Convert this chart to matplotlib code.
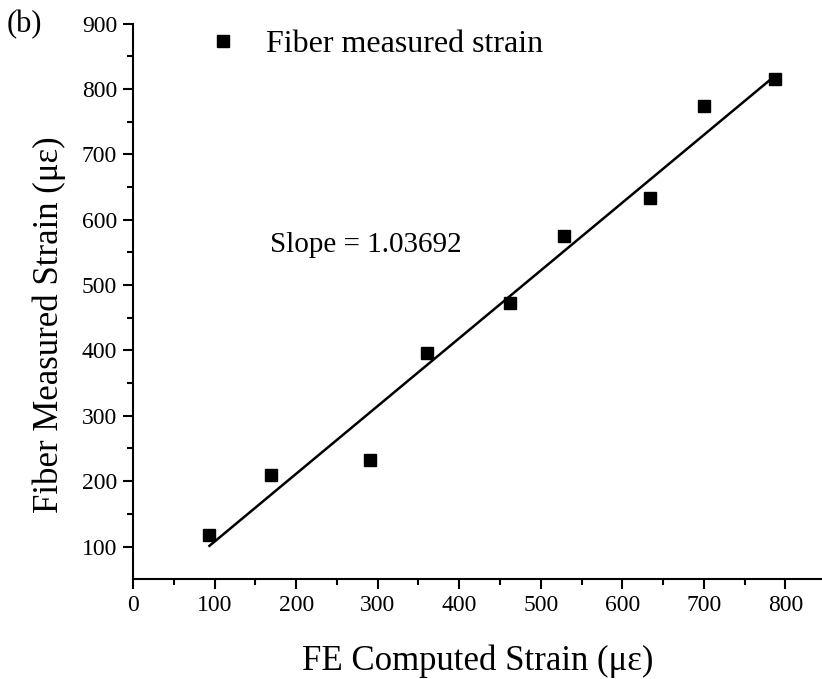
import matplotlib
matplotlib.use("Agg")
import matplotlib.pyplot as plt
import numpy as np

plt.rcParams['font.family'] = ['Liberation Serif', 'DejaVu Serif']

fe_strain = [93.6, 169, 290, 361, 462.6, 528, 633.5, 700.6, 787.7]
fiber_strain = [118, 210, 233, 396, 473, 575, 633.5, 774, 815.7]
slope = 1.03692
intercept = 4.0

xticks = [0, 100, 200, 300, 400, 500, 600, 700, 800]
yticks = [100, 200, 300, 400, 500, 600, 700, 800, 900]

fig = plt.figure(figsize=(8.22, 6.79), dpi=100)
ax = fig.add_axes([0.162, 0.147, 0.838, 0.818])

ax.plot(fe_strain, fiber_strain, 's', color='black', markersize=8.7, zorder=3,
        label='Fiber measured strain')
xf = np.array([min(fe_strain), max(fe_strain)])
ax.plot(xf, intercept + slope * xf, '-', color='black', linewidth=1.8, zorder=2)

ax.set_xlim(0, 845)
ax.set_ylim(50, 900)
ax.set_xticks(xticks)
ax.set_yticks(yticks)
ax.set_xticks(np.arange(50, 845, 100), minor=True)
ax.set_yticks(np.arange(150, 900, 100), minor=True)

for s in ['top', 'right']:
    ax.spines[s].set_visible(False)
for s in ['left', 'bottom']:
    ax.spines[s].set_linewidth(1.5)

ax.tick_params(axis='both', which='major', direction='out', length=7.5, width=1.5,
               labelsize=17, pad=4)
ax.tick_params(axis='both', which='minor', direction='out', length=4.5, width=1.5)

ax.set_xlabel('FE Computed Strain (με)', fontsize=25)
ax.set_ylabel('Fiber Measured Strain (με)', fontsize=25)
ax.xaxis.set_label_coords(0.5, -0.117)
ax.yaxis.set_label_coords(-0.098, 0.458)

leg = ax.legend(loc='upper left', bbox_to_anchor=(0.107, 0.989), frameon=False,
                fontsize=23, markerscale=1.0, handlelength=1.0, handletextpad=0.85,
                borderpad=0, borderaxespad=0)

ax.text(168, 562, 'Slope = 1.03692', fontsize=21, va='center', ha='left')

fig.text(0.008, 0.964, '(b)', fontsize=22, va='center', ha='left')

fig.savefig('out.png', dpi=100)
